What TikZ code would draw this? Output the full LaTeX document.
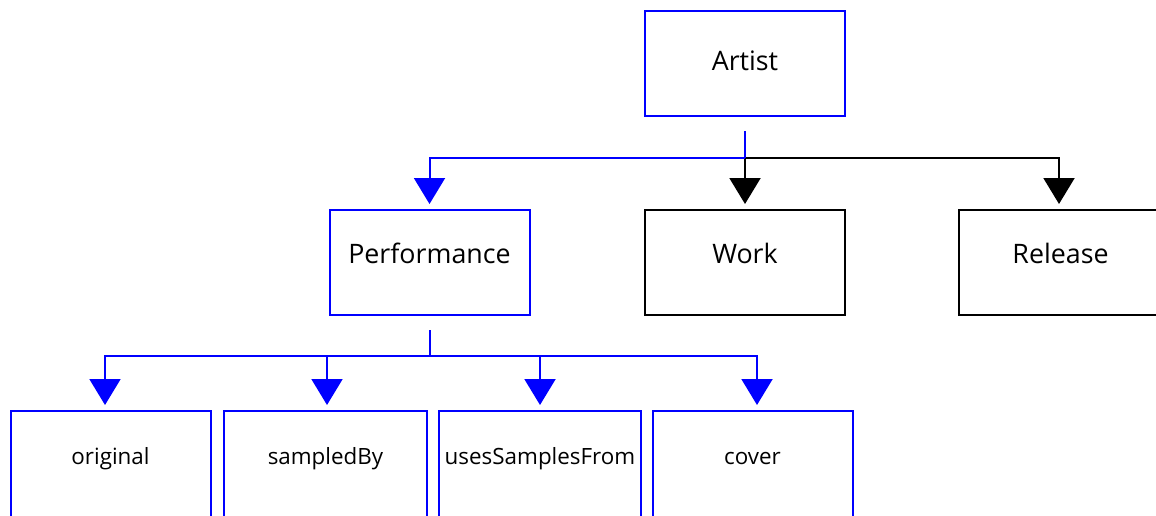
\documentclass[tikz,border=0pt]{standalone}
\usepackage{fontspec}
\setmainfont{Open Sans}
\usetikzlibrary{arrows.meta}
\definecolor{linkblue}{RGB}{0,0,255}
\begin{document}
\begin{tikzpicture}[x=1pt,y=-1pt,
  box/.style={draw, line width=2pt, minimum width=200pt, minimum height=105pt, inner sep=0pt},
  bluebox/.style={box, draw=linkblue},
  blackbox/.style={box, draw=black},
  leafbox/.style={bluebox, minimum height=125pt},
  bigtext/.style={font=\fontsize{26.8}{30}\selectfont},
  smalltext/.style={font=\fontsize{22.4}{25}\selectfont},
  link/.style={line width=2pt},
  tip/.style={-{Triangle[width=31pt,length=26pt]}, shorten >=5pt},
]
\useasboundingbox (0,0) rectangle (1156,515);
\clip (0,0) rectangle (1156,515);

% top level
\node[bluebox, bigtext] (artist) at (745,63.5) {\raisebox{-6.5pt}[0pt][0pt]{Artist}};

% second level
\node[bluebox, bigtext] (perf) at (429.5,262.5) {\raisebox{-0.5pt}[0pt][0pt]{Performance}};
\node[blackbox, bigtext] (work) at (745,262.5) {\raisebox{-0.5pt}[0pt][0pt]{Work}};
\node[blackbox, bigtext] (release) at (1059,262.5) {\hspace*{3pt}\raisebox{-0.5pt}[0pt][0pt]{Release}};

% third level (boxes run past the lower edge)
\node[leafbox, smalltext] (orig) at (110.5,473.5) {\raisebox{9.5pt}[0pt][0pt]{original}};
\node[leafbox, smalltext, minimum width=203pt] (samp) at (325.5,473.5) {\raisebox{9.5pt}[0pt][0pt]{sampledBy}};
\node[leafbox, smalltext, minimum width=202pt] (uses) at (540,473.5) {\raisebox{9.5pt}[0pt][0pt]{usesSamplesFrom}};
\node[leafbox, smalltext] (cover) at (752.5,473.5) {\raisebox{9.5pt}[0pt][0pt]{cover}};

% branch points
\coordinate (hubA) at ([yshift=-41pt]artist.south);
\coordinate (hubB) at ([yshift=-40pt]perf.south);

% connectors from Artist
\draw[link, tip] (hubA) -| (release.north);
\draw[link, tip] (hubA) -- (work.north);
\draw[link, linkblue, tip] (hubA) -| (perf.north);
\draw[link, linkblue, shorten <=14pt] (artist.south) -- (hubA);

% connectors from Performance
\draw[link, linkblue, shorten <=14pt] (perf.south) -- (hubB);
\draw[link, linkblue, tip] (hubB) -| ([xshift=-5.5pt]orig.north);
\draw[link, linkblue, tip] (hubB) -| ([xshift=1.5pt]samp.north);
\draw[link, linkblue, tip] (hubB) -| (uses.north);
\draw[link, linkblue, tip] (hubB) -| ([xshift=4.5pt]cover.north);
\end{tikzpicture}
\end{document}
